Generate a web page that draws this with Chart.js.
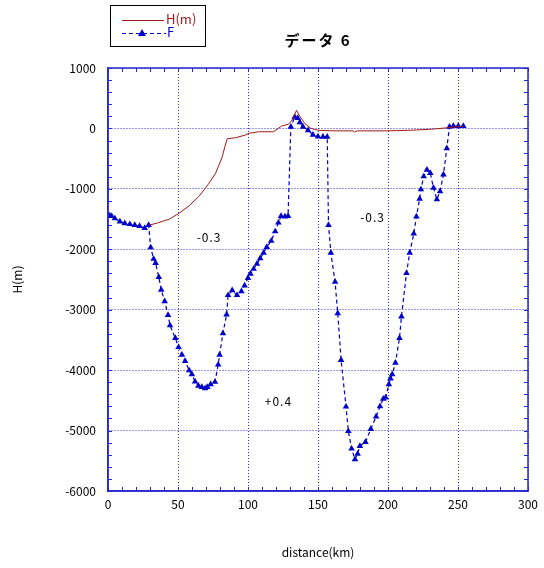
<!DOCTYPE html>
<html><head><meta charset="utf-8">
<script src="https://cdn.jsdelivr.net/npm/chart.js@4.4.0/dist/chart.umd.min.js"></script>
<style>html,body{margin:0;padding:0;background:#fff;}</style>
</head><body>
<canvas id="c" width="544" height="568"></canvas>
<script>
// ---- data ----
const chartTitle = 'データ 6';
const xAxisTitle = 'distance(km)';
const yAxisTitle = 'H(m)';
const seriesNames = ['H(m)', 'F'];

const hDistance = [29.7, 36, 43.9, 51, 58, 65.1, 69.8, 73, 76.9, 79, 81.6, 83.5, 85.2, 91, 98, 101, 107.6, 118.2, 124, 128.8, 131, 134.7, 137, 140.6, 145, 150, 160, 175, 176, 178, 200, 216, 225, 232.5, 242, 253.8];
const hDepth    = [-1600, -1560, -1500, -1400, -1280, -1120, -980, -880, -740, -620, -470, -300, -170, -155, -110, -80, -55, -55, 40, 70, 120, 300, 200, 80, 0, -30, -40, -40, -60, -40, -40, -30, -20, -10, 10, 38];

const fDistance = [1, 2.6, 4.9, 8.5, 12, 15.6, 19.1, 22.6, 26.2, 29, 30.5, 32.6, 34, 36.3, 38, 40.5, 42.9, 44.3, 48.1, 50.4, 52.8, 55.1, 58, 59.9, 62.2, 64.6, 67, 69.4, 71, 73.3, 76.4, 78.7, 79.7, 82.1, 84.7, 85.8, 88.7, 92.2, 95.3, 97.6, 100, 101.7, 104, 106.4, 108.7, 111.1, 113.4, 116.6, 119.4, 121.7, 123.6, 126.4, 128.6, 130.6, 133.4, 135.5, 137, 139.3, 142.9, 146.4, 150, 153.5, 156.6, 157.5, 159.2, 162.2, 164.1, 166.5, 170, 171.7, 174, 176.4, 178.3, 179.9, 183.9, 187.7, 191.5, 194.3, 196.6, 198.3, 200.6, 201.8, 203, 205.3, 208.2, 209.6, 213.2, 215.5, 218.4, 220.3, 222.6, 223.5, 225.5, 227.8, 230.2, 232.5, 234.9, 237.2, 239.6, 242, 243.9, 246.7, 250.2, 253.8];
const fValue    = [-1440, -1450, -1490, -1540, -1570, -1585, -1600, -1615, -1650, -1600, -1970, -2160, -2230, -2460, -2670, -2860, -3090, -3260, -3470, -3620, -3745, -3850, -4005, -4070, -4190, -4260, -4280, -4300, -4280, -4235, -4195, -3910, -3745, -3390, -3080, -2760, -2680, -2760, -2695, -2600, -2475, -2405, -2325, -2240, -2150, -2060, -1965, -1860, -1705, -1560, -1450, -1460, -1450, 25, 190, 170, 100, 25, -30, -105, -135, -140, -140, -1600, -2060, -2540, -3060, -3835, -4605, -5010, -5300, -5475, -5385, -5255, -5190, -4975, -4770, -4600, -4475, -4455, -4235, -4140, -4070, -3880, -3470, -3115, -2395, -2060, -1740, -1460, -1165, -1010, -795, -685, -740, -985, -1175, -1040, -765, -330, 25, 40, 40, 40];

const noteLabels   = ['-0.3', '-0.3', '+0.4'];
const noteDistance = [72.2, 189, 121.7];
const noteValue    = [-1800, -1470, -4520];

// ---- styles ----
const RED = '#a01818';
const BLUE = '#0000c8';
const GRID = '#2a2ae0';
const AXIS = '#2828d0';
const FONT = "'Noto Sans CJK JP', 'DejaVu Sans', sans-serif";

const toPts = (xs, ys) => xs.map((x, i) => ({x: x, y: ys[i]}));

const framePlugin = {
  id: 'frame',
  afterDraw(chart) {
    const ctx = chart.ctx, a = chart.chartArea;
    const xs = chart.scales.x, ys = chart.scales.y;
    ctx.save();
    // frame
    ctx.strokeStyle = AXIS; ctx.lineWidth = 1.5;
    ctx.strokeRect(a.left, a.top, a.right - a.left, a.bottom - a.top);
    // minor ticks
    ctx.lineWidth = 1;
    ctx.beginPath();
    for (let v = 0; v <= 300; v += 10) {
      const p = Math.round(xs.getPixelForValue(v)) + 0.5;
      ctx.moveTo(p, a.top); ctx.lineTo(p, a.top + 4);
      ctx.moveTo(p, a.bottom); ctx.lineTo(p, a.bottom - 4);
    }
    for (let v = -6000; v <= 1000; v += 200) {
      const p = Math.round(ys.getPixelForValue(v)) + 0.5;
      ctx.moveTo(a.left, p); ctx.lineTo(a.left + 4, p);
      ctx.moveTo(a.right, p); ctx.lineTo(a.right - 4, p);
    }
    ctx.stroke();
    // notes
    ctx.fillStyle = '#000';
    ctx.font = '12px ' + FONT;
    ctx.textAlign = 'center'; ctx.textBaseline = 'middle';
    ctx.letterSpacing = '1px';
    noteLabels.forEach((t, i) => {
      ctx.fillText(t, xs.getPixelForValue(noteDistance[i]), ys.getPixelForValue(noteValue[i]));
    });
    // title
    ctx.font = 'bold 15px ' + FONT;
    ctx.letterSpacing = '2px';
    ctx.fillText(chartTitle, (a.left + a.right) / 2, 40);
    ctx.letterSpacing = '0px';
    // legend box
    ctx.strokeStyle = '#000'; ctx.lineWidth = 1;
    ctx.strokeRect(110.5, 5.5, 95, 41);
    const ds = chart.data.datasets;
    ctx.strokeStyle = ds[0].borderColor; ctx.lineWidth = 1;
    ctx.beginPath(); ctx.moveTo(122, 20.5); ctx.lineTo(164, 20.5); ctx.stroke();
    ctx.strokeStyle = ds[1].borderColor; ctx.setLineDash([4, 3]);
    ctx.beginPath(); ctx.moveTo(122, 33.5); ctx.lineTo(166, 33.5); ctx.stroke();
    ctx.setLineDash([]);
    ctx.fillStyle = ds[1].borderColor;
    ctx.beginPath(); ctx.moveTo(142, 29); ctx.lineTo(146, 36); ctx.lineTo(138, 36); ctx.closePath(); ctx.fill();
    ctx.textAlign = 'left';
    ctx.font = '13px ' + FONT;
    ctx.fillStyle = ds[0].borderColor; ctx.fillText(seriesNames[0], 166, 19);
    ctx.fillStyle = ds[1].borderColor; ctx.fillText(seriesNames[1], 167, 32);
    ctx.restore();
  }
};

new Chart(document.getElementById('c'), {
  type: 'scatter',
  data: {
    datasets: [
      { label: seriesNames[0], data: toPts(hDistance, hDepth), showLine: true,
        borderColor: RED, borderWidth: 1, pointRadius: 0, fill: false },
      { label: seriesNames[1], data: toPts(fDistance, fValue), showLine: true,
        borderColor: BLUE, backgroundColor: BLUE, borderWidth: 1.2, borderDash: [4, 3],
        pointStyle: 'triangle', pointRadius: 3.8, pointBorderWidth: 0, pointBackgroundColor: BLUE, fill: false }
    ]
  },
  options: {
    responsive: false, animation: false, devicePixelRatio: 1,
    layout: { padding: { left: 0, right: 11, top: 68, bottom: 0 } },
    plugins: { legend: { display: false }, title: { display: false }, tooltip: { enabled: false } },
    scales: {
      x: {
        type: 'linear', min: 0, max: 300,
        ticks: { stepSize: 50, color: '#000', font: { size: 12, family: FONT }, padding: 6, maxRotation: 0 },
        grid: { color: GRID, lineWidth: 1, drawTicks: false },
        border: { color: AXIS, width: 1.5, dash: [1, 2] },
        title: { display: true, text: xAxisTitle, color: '#000', font: { size: 12, family: FONT }, padding: { top: 0, bottom: 8 } },
        afterFit(s) { s.height = 77; }
      },
      y: {
        type: 'linear', min: -6000, max: 1000,
        ticks: { stepSize: 1000, color: '#000', font: { size: 12, family: FONT }, padding: 12, callback: v => String(v) },
        grid: { color: GRID, lineWidth: 1, drawTicks: false },
        border: { color: AXIS, width: 1.5, dash: [1, 2] },
        title: { display: true, text: yAxisTitle, color: '#000', font: { size: 12, family: FONT }, padding: { top: 10, bottom: 0 } },
        afterFit(s) { s.width = 108; }
      }
    }
  },
  plugins: [framePlugin]
});
</script>
</body></html>
